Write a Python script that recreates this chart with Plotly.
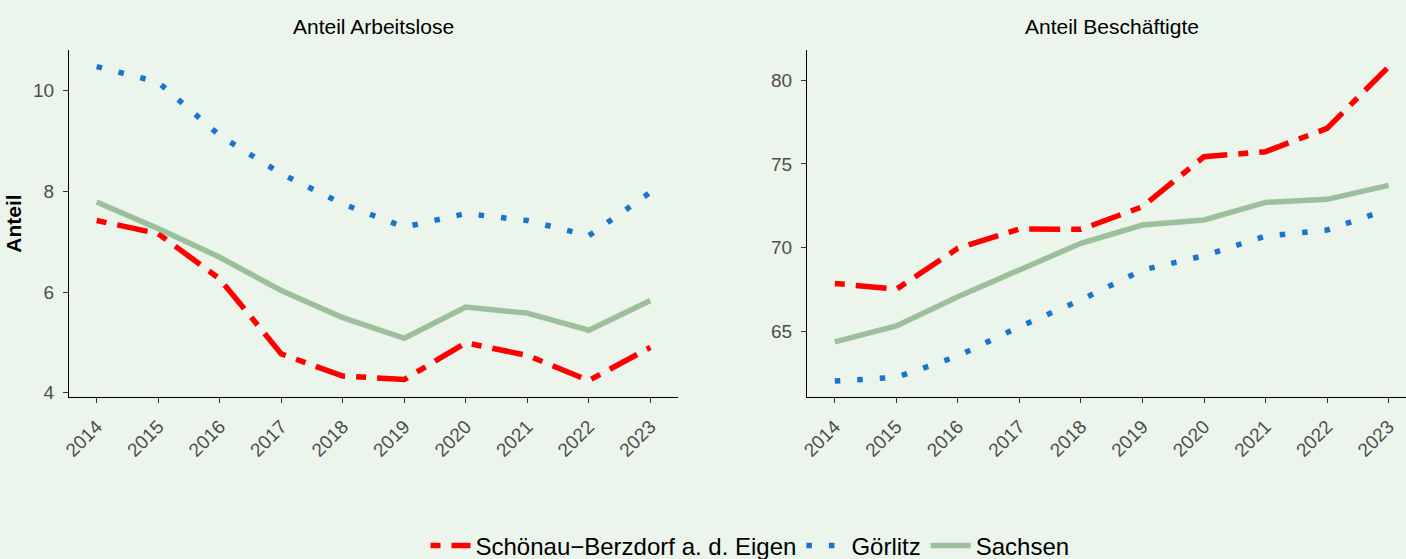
import plotly.graph_objects as go

# ---- data ----
years = [2014, 2015, 2016, 2017, 2018, 2019, 2020, 2021, 2022, 2023]
year_labels = [str(y) for y in years]

series_names = ["Schönau\u2212Berzdorf a. d. Eigen", "Görlitz", "Sachsen"]

arbeitslose_schoenau = [7.42, 7.16, 6.26, 4.77, 4.33, 4.26, 4.99, 4.74, 4.24, 4.90]
arbeitslose_goerlitz = [10.48, 10.17, 9.11, 8.35, 7.75, 7.29, 7.56, 7.42, 7.12, 7.98]
arbeitslose_sachsen = [7.79, 7.26, 6.69, 6.03, 5.49, 5.08, 5.70, 5.58, 5.24, 5.83]

beschaeftigte_schoenau = [67.88, 67.53, 69.97, 71.12, 71.10, 72.45, 75.43, 75.73, 77.12, 80.79]
beschaeftigte_goerlitz = [62.06, 62.28, 63.55, 65.30, 66.89, 68.68, 69.53, 70.70, 71.06, 72.30]
beschaeftigte_sachsen = [64.40, 65.34, 67.09, 68.72, 70.27, 71.36, 71.66, 72.71, 72.89, 73.72]

left_yticks = [4, 6, 8, 10]
right_yticks = [65, 70, 75, 80]

panel_titles = ["Anteil Arbeitslose", "Anteil Beschäftigte"]
y_title = "Anteil"

# ---- styles ----
BG = "#ECF5EB"
FONT = "Liberation Sans, Arial, Helvetica, sans-serif"
styles = [
    dict(color="#FF0000", width=5.5, dash="10px,11px,31px,11px"),
    dict(color="#1874CD", width=5.5, dash="5.5px,17px"),
    dict(color="#9CC09C", width=5.5, dash="solid"),
]

left_data = [arbeitslose_schoenau, arbeitslose_goerlitz, arbeitslose_sachsen]
right_data = [beschaeftigte_schoenau, beschaeftigte_goerlitz, beschaeftigte_sachsen]

fig = go.Figure()
for i, name in enumerate(series_names):
    fig.add_trace(go.Scatter(x=years, y=left_data[i], mode="lines", name=name,
                             legendgroup=name, line=styles[i],
                             xaxis="x", yaxis="y", showlegend=True))
for i, name in enumerate(series_names):
    fig.add_trace(go.Scatter(x=years, y=right_data[i], mode="lines", name=name,
                             legendgroup=name, line=styles[i],
                             xaxis="x2", yaxis="y2", showlegend=False))

W, H = 1406, 559
ydom = [(H - 397) / H, (H - 50) / H]

common_x = dict(tickmode="array", tickvals=years, ticktext=year_labels, tickangle=-45,
                ticks="outside", ticklen=5, tickwidth=1.1, tickcolor="#333333",
                showline=True, linecolor="black", linewidth=1,
                showgrid=False, zeroline=False, automargin=False, ticklabelstandoff=5,
                tickfont=dict(family=FONT, size=19, color="#4D4D4D"))
common_y = dict(tickmode="array", ticks="outside", ticklen=5, tickwidth=1.1,
                tickcolor="#333333", showline=True, linecolor="black", linewidth=1,
                showgrid=False, zeroline=False, automargin=False, ticklabelstandoff=5,
                tickfont=dict(family=FONT, size=19, color="#4D4D4D"))

fig.update_layout(
    width=W, height=H,
    margin=dict(l=0, r=0, t=0, b=0, autoexpand=False),
    paper_bgcolor=BG, plot_bgcolor=BG,
    font=dict(family=FONT, color="black"),
    xaxis=dict(domain=[69 / W, 678 / W], range=[2013.55, 2023.45], anchor="y", **common_x),
    yaxis=dict(domain=ydom, range=[3.913, 10.81], anchor="x", tickvals=left_yticks,
               title=dict(text=y_title, font=dict(family=FONT, size=21, color="black", weight="bold"),
                          standoff=5),
               **common_y),
    xaxis2=dict(domain=[807 / W, 1.0], range=[2013.548, 2023.283], anchor="y2", **common_x),
    yaxis2=dict(domain=ydom, range=[61.11, 81.79], anchor="x2", tickvals=right_yticks, **common_y),
    legend=dict(orientation="h", x=750 / W, xanchor="center", y=(H - 546) / H, yanchor="middle",
                font=dict(family=FONT, size=24, color="black"), bgcolor="rgba(0,0,0,0)",
                traceorder="normal", itemwidth=40),
    showlegend=True,
    annotations=[
        dict(text=panel_titles[0], x=373.5 / W, y=(H - 27) / H, xref="paper", yref="paper",
             showarrow=False, xanchor="center", yanchor="middle",
             font=dict(family=FONT, size=21, color="black")),
        dict(text=panel_titles[1], x=1112 / W, y=(H - 27) / H, xref="paper", yref="paper",
             showarrow=False, xanchor="center", yanchor="middle",
             font=dict(family=FONT, size=21, color="black")),
    ],
)

fig.write_html("out.html", config={"displayModeBar": False},
               post_script="document.body.style.margin='0';")
